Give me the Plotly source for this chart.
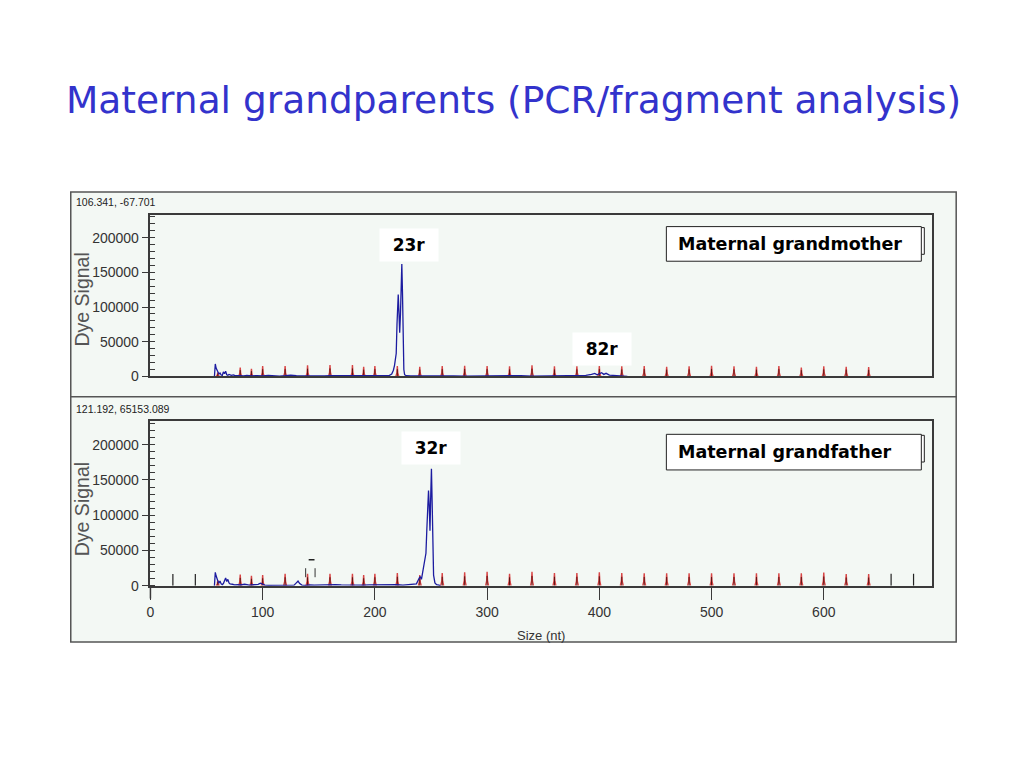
import plotly.graph_objects as go

# the page body has an 8px margin; the figure is sized so it fits inside the window
BODY = 8
W, H = 996, 738

TITLE = "Maternal grandparents (PCR/fragment analysis)"
PANEL_LABELS = ["Maternal grandmother", "Maternal grandfather"]
COORD_TEXT = ["106.341, -67.701", "121.192, 65153.089"]
Y_TITLE = "Dye Signal"
X_TITLE = "Size (nt)"

# --- blue dye trace, maternal grandmother (size nt, signal) ---
gm_x = [57, 57.8, 58.5, 59.2, 60, 61, 62, 63, 64, 65, 66, 67, 68, 69, 70, 72, 74, 76, 80, 83,
        86, 90, 95, 100, 105, 110, 115, 120, 125, 130, 135, 140, 145, 150, 155, 160, 170, 180,
        190, 200, 205, 210, 213, 215, 216.5, 217.5, 218.3, 219, 219.7, 220.3, 220.8, 221.4,
        222.1, 222.8, 223.4, 224, 224.6, 225.2, 225.8, 226.5, 228, 232, 240, 250, 260, 270,
        280, 290, 300, 310, 320, 330, 340, 350, 360, 370, 380, 388, 393, 396, 398, 400, 402,
        404, 406, 409, 413, 418, 423, 425]
gm_y = [0, 18000, 12000, 9000, 6000, 3500, 5000, 2000, 1500, 6500, 4000, 7500, 2500, 1800, 3000,
        1500, 2200, 1000, 1200, 700, 1500, 800, 1300, 700, 1500, 900, 600, 1200, 2000, 1000,
        800, 1500, 900, 1200, 700, 1000, 900, 1300, 800, 1000, 700, 900, 1500, 3500, 9000,
        16000, 26000, 33000, 75000, 112000, 118000, 95000, 63000, 90000, 140000, 162000,
        120000, 40000, 10000, 2500, 1000, 700, 900, 600, 800, 700, 500, 800, 600, 900, 700,
        1200, 600, 900, 700, 800, 1000, 1500, 3000, 4500, 2500, 4000, 5500, 3000, 4500, 2000,
        1500, 1200, 900, 0]

# --- blue dye trace, maternal grandfather ---
gf_x = [57, 57.8, 58.5, 59.2, 60, 61, 62, 63, 64, 65, 66, 67, 68, 69, 70, 71, 73, 75, 78, 80,
        84, 88, 92, 96, 98, 100, 102, 105, 110, 115, 120, 125, 128, 130, 131.5, 133, 135, 138,
        142, 146, 150, 155, 160, 165, 170, 175, 180, 185, 190, 195, 200, 205, 210, 215, 220,
        225, 230, 234, 237, 239, 240.3, 241.5, 242.5, 243.5, 244.5, 245.5, 246.3, 247.2, 247.8,
        248.4, 249.1, 249.8, 250.4, 251, 251.6, 252.3, 253.5, 255, 257, 258.5]
gf_y = [0, 19000, 14000, 10000, 7000, 4000, 6500, 2500, 1500, 3000, 6000, 11000, 6000, 9000,
        4000, 2500, 2000, 1200, 1500, 1000, 2000, 900, 1300, 1800, 3500, 1800, 800, 500, 400,
        300, 500, 400, 800, 4000, 6500, 3000, 800, 500, 1200, 700, 1000, 1300, 800, 1500, 1000,
        700, 600, 900, 700, 1000, 1200, 800, 1400, 1000, 1300, 900, 1200, 1500, 2500, 9000,
        13000, 9000, 18000, 30000, 40000, 46000, 80000, 120000, 135000, 115000, 78000, 130000,
        166000, 120000, 50000, 15000, 4000, 1500, 800, 0]

# --- red size-standard peaks ---
std_sizes = [60, 80, 90, 100, 120, 140, 160, 180, 190, 200, 220, 240, 260, 280, 300, 320, 340,
             360, 380, 400, 420, 440, 460, 480, 500, 520, 540, 560, 580, 600, 620, 640]
std_h_top = [6000, 13000, 11000, 15000, 15000, 16000, 16500, 16500, 14000, 15000, 15000, 14000,
             15000, 15500, 15000, 14500, 16000, 14500, 14500, 15000, 14500, 15000, 14000, 14500,
             15500, 14500, 14000, 15000, 13000, 14500, 14000, 13500]
std_h_bot = [8000, 15800, 14000, 15000, 17000, 17000, 17000, 17000, 15000, 17000, 18000, 15000,
             18000, 19000, 19700, 17000, 19700, 18000, 18000, 19000, 18000, 17500, 17500, 17500,
             17500, 17500, 17500, 17500, 17500, 18500, 16500, 16500]

# --- black bin markers (grandfather panel only) ---
bin_x = [20, 40, 660, 680]
bin_h = [16500, 16500, 17000, 17000]

# dashed marker near 142 nt (grandfather)
mark_x = [138.3, 146.7]
mark_bar_x = [141.0, 146.2]
mark_low, mark_high, mark_bar = 12000, 29000, 36800

# peak labels (text, x nt, y signal)
peak_labels_top = [("23r", 230, 190000), ("82r", 402, 39000)]
peak_labels_bot = [("32r", 250, 195000)]

Y_TICKS = [0, 50000, 100000, 150000, 200000]
X_TICKS = [0, 100, 200, 300, 400, 500, 600]
X_RANGE = [0, 696.7]
Y_RANGE = [0, 233000]

PANEL_BG = "#f3f8f4"
AX_COL = "#3a3a3a"
BLUE = "#1c1ca0"
RED = "#d84545"


def px(x):
    return (x - BODY) / W


def py(y):
    return 1 - (y - BODY) / H


def peaks(xs, hs, halfw=1.3):
    ox, oy = [], []
    for s, h in zip(xs, hs):
        ox += [s - halfw, s - 0.4, s, s + 0.4, s + halfw, None]
        oy += [0, h * 0.35, h, h * 0.35, 0, None]
    return ox, oy


def cores(xs, hs, frac=0.7):
    ox, oy = [], []
    for s, h in zip(xs, hs):
        ox += [s, s, None]
        oy += [0, h * frac, None]
    return ox, oy


fig = go.Figure()

for ax, sizes, hs, bx, by in [("1", std_sizes, std_h_top, gm_x, gm_y),
                               ("2", std_sizes, std_h_bot, gf_x, gf_y)]:
    xa = "x" if ax == "1" else "x2"
    ya = "y" if ax == "1" else "y2"
    rx, ry = peaks(sizes, hs)
    fig.add_trace(go.Scatter(x=rx, y=ry, mode="lines", line=dict(color=RED, width=1.4),
                             xaxis=xa, yaxis=ya, showlegend=False, hoverinfo="skip"))
    cx, cy = cores(sizes, hs)
    fig.add_trace(go.Scatter(x=cx, y=cy, mode="lines", line=dict(color="#5a1010", width=1),
                             xaxis=xa, yaxis=ya, showlegend=False, hoverinfo="skip"))
    fig.add_trace(go.Scatter(x=bx, y=by, mode="lines", line=dict(color=BLUE, width=1.3),
                             xaxis=xa, yaxis=ya, showlegend=False))

# bin markers in bottom panel
bxs, bys = cores(bin_x, bin_h, frac=1.0)
fig.add_trace(go.Scatter(x=bxs, y=bys, mode="lines", line=dict(color="#222", width=1.2),
                         xaxis="x2", yaxis="y2", showlegend=False, hoverinfo="skip"))
# dashed marker
fig.add_trace(go.Scatter(x=[mark_x[0], mark_x[0], None, mark_x[1], mark_x[1]],
                         y=[mark_low, mark_high, None, mark_low, mark_high], mode="lines",
                         line=dict(color="#333", width=1, dash="dash"),
                         xaxis="x2", yaxis="y2", showlegend=False, hoverinfo="skip"))
fig.add_trace(go.Scatter(x=mark_bar_x, y=[mark_bar, mark_bar], mode="lines",
                         line=dict(color="#222", width=1.5),
                         xaxis="x2", yaxis="y2", showlegend=False, hoverinfo="skip"))

shapes = []
# outer panels
for (y0, y1) in [(194, 401), (401, 649)]:
    shapes.append(dict(type="rect", xref="paper", yref="paper", x0=px(67), x1=px(956),
                       y0=py(y1), y1=py(y0), fillcolor=PANEL_BG,
                       line=dict(color="#555", width=1.5), layer="below"))
# y axis extension below zero in bottom panel
shapes.append(dict(type="line", xref="paper", yref="paper", x0=px(147), x1=px(147),
                   y0=py(605), y1=py(592), line=dict(color=AX_COL, width=1.5)))
# label boxes with shadow line
for (y0, y1, sy0, sy1) in [(229, 264, 230, 257), (439, 475, 440, 467)]:
    shapes.append(dict(type="rect", xref="paper", yref="paper", x0=px(668), x1=px(924),
                       y0=py(sy1), y1=py(sy0), fillcolor="white",
                       line=dict(color="#222", width=1)))
    shapes.append(dict(type="rect", xref="paper", yref="paper", x0=px(665), x1=px(921),
                       y0=py(y1), y1=py(y0), fillcolor="white",
                       line=dict(color="#222", width=1)))

annotations = [
    dict(text=TITLE, xref="paper", yref="paper", x=px(512), y=py(101), showarrow=False,
         xanchor="center", yanchor="middle",
         font=dict(family="DejaVu Sans", size=37.5, color="#3333cc")),
]
for txt, yc in zip(COORD_TEXT, [204, 413]):
    annotations.append(dict(text=txt, xref="paper", yref="paper", x=px(70), y=py(yc),
                            showarrow=False, xanchor="left", yanchor="middle",
                            font=dict(family="Liberation Sans", size=10.5, color="#222")))
for txt, yc in zip(PANEL_LABELS, [247, 457]):
    annotations.append(dict(text="<b>" + txt + "</b>", xref="paper", yref="paper", x=px(675),
                            y=py(yc), showarrow=False, xanchor="left", yanchor="middle",
                            font=dict(family="DejaVu Sans", size=17.5, color="black")))
for txt, yc in zip([Y_TITLE, Y_TITLE], [303, 515]):
    annotations.append(dict(text=txt, xref="paper", yref="paper", x=px(78), y=py(yc),
                            showarrow=False, xanchor="center", yanchor="middle", textangle=-90,
                            font=dict(family="Liberation Sans", size=19.5, color="#555")))
annotations.append(dict(text=X_TITLE, xref="paper", yref="paper", x=px(539), y=py(642),
                        showarrow=False, xanchor="center", yanchor="middle",
                        font=dict(family="Liberation Sans", size=13, color="#333")))
for labels, xr, yr in [(peak_labels_top, "x", "y"), (peak_labels_bot, "x2", "y2")]:
    for txt, lx, ly in labels:
        annotations.append(dict(text="<b>" + txt + "</b>", xref=xr, yref=yr, x=lx, y=ly,
                                showarrow=False, bgcolor="white", width=56, height=30,
                                font=dict(family="DejaVu Sans", size=17, color="black")))

yaxis_common = dict(range=Y_RANGE, tickvals=Y_TICKS, tickformat="d", showline=True,
                    linecolor=AX_COL, linewidth=1.5, mirror=True, ticks="outside",
                    ticklen=7, tickcolor=AX_COL, tickwidth=1.2, showgrid=False,
                    zeroline=False,
                    tickfont=dict(family="Liberation Sans", size=14, color="#333"),
                    minor=dict(dtick=10000, ticks="inside", ticklen=5, tickcolor=AX_COL,
                               tickwidth=1, showgrid=False))

fig.update_layout(
    width=W, height=H, margin=dict(l=0, r=0, t=0, b=0),
    paper_bgcolor="white", plot_bgcolor="rgba(0,0,0,0)",
    showlegend=False,
    xaxis=dict(domain=[px(147), px(932)], range=X_RANGE, anchor="y", showline=True,
               mirror=True, linecolor=AX_COL, linewidth=1.5, showticklabels=False,
               ticks="", showgrid=False, zeroline=False),
    yaxis=dict(domain=[py(380.5), py(217)], anchor="x", **yaxis_common),
    xaxis2=dict(domain=[px(147), px(932)], range=X_RANGE, anchor="y2", showline=True,
                mirror=True, linecolor=AX_COL, linewidth=1.5, tickvals=X_TICKS,
                ticks="outside", ticklen=13, tickcolor=AX_COL, tickwidth=1.2,
                showgrid=False, zeroline=False,
                tickfont=dict(family="Liberation Sans", size=14, color="#333")),
    yaxis2=dict(domain=[py(592), py(426)], anchor="x2", **yaxis_common),
    shapes=shapes,
    annotations=annotations,
)

fig.write_html("out.html")
